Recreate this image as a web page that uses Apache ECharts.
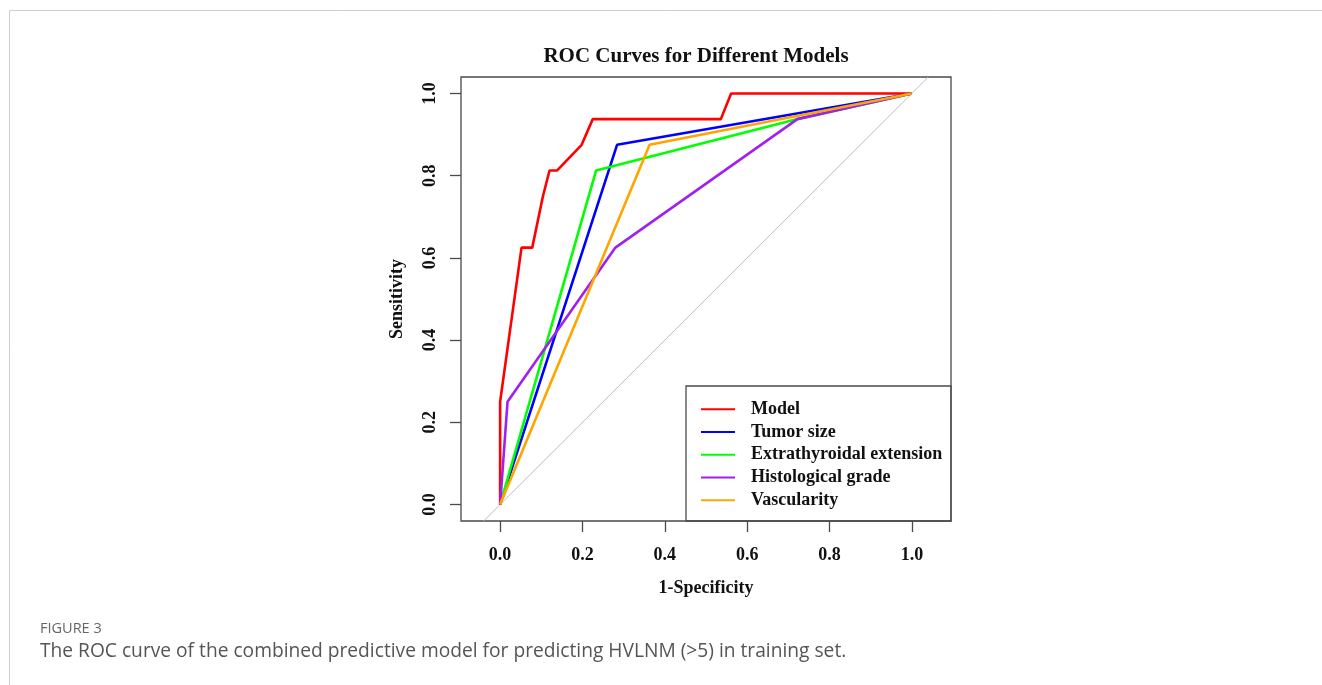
<!DOCTYPE html>
<html>
<head>
<meta charset="utf-8">
<title>ROC Curves for Different Models</title>
<script src="https://cdn.jsdelivr.net/npm/echarts@6/dist/echarts.min.js"></script>
<style>
  html, body { margin: 0; padding: 0; background: #ffffff; }
  #chart { width: 1322px; height: 685px; }
</style>
</head>
<body>
<div id="chart"></div>
<script>
// ROC points (false positive rate, true positive rate) for each model
const fprModel = [0, 0, 0.052, 0.078, 0.104, 0.12, 0.138, 0.198, 0.225, 0.536, 0.561, 1];
const tprModel = [0, 0.25, 0.625, 0.625, 0.75, 0.8125, 0.8125, 0.875, 0.9375, 0.9375, 1, 1];

const fprTumor = [0, 0.284, 1];
const tprTumor = [0, 0.875, 1];

const fprExtra = [0, 0.233, 0.72, 1];
const tprExtra = [0, 0.8125, 0.9375, 1];

const fprHisto = [0, 0.018, 0.28, 0.722, 1];
const tprHisto = [0, 0.25, 0.625, 0.9375, 1];

const fprVasc = [0, 0.363, 1];
const tprVasc = [0, 0.875, 1];

// Reference diagonal (chance line), clipped to the plot region
const diagX = [-0.04, 1.04];
const diagY = [-0.04, 1.04];

const seriesNames = ['Model', 'Tumor size', 'Extrathyroidal extension', 'Histological grade', 'Vascularity'];
const seriesColors = ['#ff0000', '#0000ff', '#00ff00', '#a020f0', '#ffa500'];
const tickValues = [0, 0.2, 0.4, 0.6, 0.8, 1.0];

const zip = (xs, ys) => xs.map((x, i) => [x, ys[i]]);
const curves = [
  zip(fprModel, tprModel),
  zip(fprTumor, tprTumor),
  zip(fprExtra, tprExtra),
  zip(fprHisto, tprHisto),
  zip(fprVasc, tprVasc)
];

// plot box in pixels
const G = { left: 461, top: 77, width: 490, height: 444 };
const serif = '"Liberation Serif", "DejaVu Serif", serif';
const sans = '"Open Sans", Lato, sans-serif';
const boxColor = '#4a4a4a';

const chart = echarts.init(document.getElementById('chart'), null, { renderer: 'canvas' });

const axisCommon = {
  type: 'value',
  axisLine: { show: false, onZero: false },
  splitLine: { show: false },
  axisTick: {
    show: true, inside: false, length: 11,
    customValues: tickValues,
    lineStyle: { color: boxColor, width: 1.3 }
  },
  axisLabel: {
    customValues: tickValues,
    formatter: v => v.toFixed(1),
    color: '#111',
    fontFamily: serif,
    fontWeight: 'bold',
    fontSize: 18
  },
  nameLocation: 'middle',
  nameTextStyle: { color: '#111', fontFamily: serif, fontWeight: 'bold', fontSize: 18 }
};

const option = {
  animation: false,
  backgroundColor: '#ffffff',
  title: [
    {
      text: 'ROC Curves for Different Models',
      left: 696, top: 46, padding: 0,
      textAlign: 'center',
      textStyle: { color: '#111', fontFamily: serif, fontWeight: 'bold', fontSize: 21 }
    },
    {
      text: 'FIGURE 3',
      left: 40, top: 621, padding: 0,
      textStyle: { color: '#666', fontFamily: sans, fontWeight: 'normal', fontSize: 14.5 }
    },
    {
      text: 'The ROC curve of the combined predictive model for predicting HVLNM (>5) in training set.',
      left: 40, top: 642, padding: 0,
      textStyle: { color: '#555', fontFamily: sans, fontWeight: 'normal', fontSize: 19.2 }
    }
  ],
  grid: {
    left: G.left, top: G.top, width: G.width, height: G.height,
    show: true, borderColor: boxColor, borderWidth: 1.3, backgroundColor: 'transparent'
  },
  xAxis: Object.assign({}, axisCommon, {
    min: -0.095, max: 1.095,
    name: '1-Specificity', nameGap: 58,
    axisLabel: Object.assign({}, axisCommon.axisLabel, { margin: 25 })
  }),
  yAxis: Object.assign({}, axisCommon, {
    min: -0.04, max: 1.04,
    name: 'Sensitivity', nameGap: 55, nameRotate: 90,
    axisLabel: Object.assign({}, axisCommon.axisLabel, { margin: 22, rotate: 90 })
  }),
  legend: {
    data: seriesNames,
    orient: 'vertical',
    left: 701, top: 398,
    icon: 'rect',
    itemWidth: 34, itemHeight: 2,
    itemGap: 0,
    padding: 0,
    textStyle: {
      color: '#111', fontFamily: serif, fontWeight: 'bold', fontSize: 18,
      lineHeight: 22.7, padding: [0, 0, 0, 11]
    }
  },
  graphic: [
    // legend frame anchored to the bottom-right corner of the plot box
    {
      type: 'rect', z: 5,
      shape: { x: G.left + G.width - 265, y: G.top + G.height - 135, width: 265, height: 135 },
      style: { fill: 'transparent', stroke: boxColor, lineWidth: 1.3 }
    },
    // page frame lines
    { type: 'line', shape: { x1: 9.5, y1: 10.5, x2: 1322, y2: 10.5 }, style: { stroke: '#d0d0d0', lineWidth: 1 } },
    { type: 'line', shape: { x1: 9.5, y1: 10.5, x2: 9.5, y2: 685 }, style: { stroke: '#d0d0d0', lineWidth: 1 } }
  ],
  series: [
    {
      name: 'chance', type: 'line', data: zip(diagX, diagY),
      showSymbol: false, silent: true, z: 1,
      lineStyle: { color: '#bebebe', width: 1 }
    }
  ].concat(curves.map((pts, i) => ({
    name: seriesNames[i],
    type: 'line',
    data: pts,
    showSymbol: false,
    z: 2 + i,
    color: seriesColors[i],
    lineStyle: { color: seriesColors[i], width: 2.6 },
    itemStyle: { color: seriesColors[i] }
  })))
};

chart.setOption(option);
</script>
</body>
</html>
